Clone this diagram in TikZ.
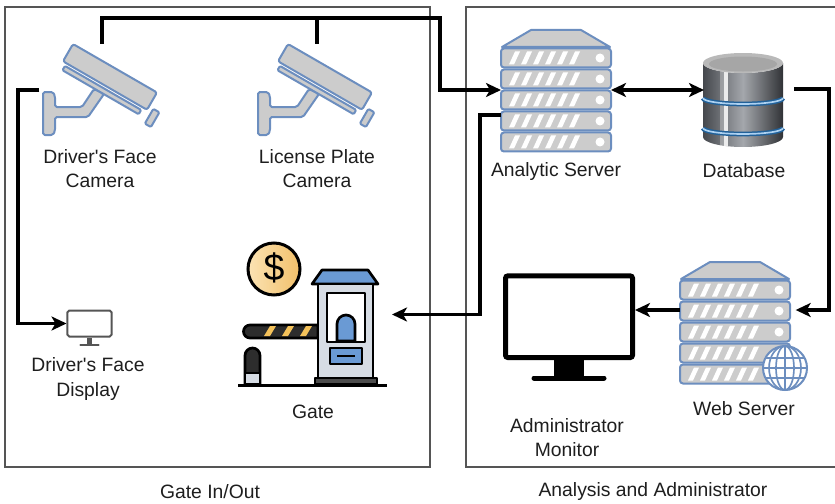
\documentclass[tikz,border=0pt]{standalone}
\usepackage{fontspec}
\setmainfont{Liberation Sans}
\usetikzlibrary{arrows.meta}

\definecolor{iconblue}{HTML}{6C8EBF}
\definecolor{icongrey}{HTML}{CCCCCC}
\definecolor{framegrey}{HTML}{555555}
\definecolor{labelgrey}{HTML}{1E1E1E}
\definecolor{screengrey}{HTML}{555555}
\definecolor{boothblue}{HTML}{6A9AD4}
\definecolor{boothgrey}{HTML}{D6DCE4}
\definecolor{coinlight}{HTML}{FBE3B4}
\definecolor{coindark}{HTML}{F2C06A}
\definecolor{stripeyellow}{HTML}{F4C25A}
\definecolor{dbdark}{HTML}{45484D}
\definecolor{dbmid}{HTML}{A4A7AC}
\definecolor{dbband}{HTML}{2F8BDB}

\tikzset{
    wiretip/.tip={Stealth[length=0.45cm, width=0.42cm, inset=0.12cm]},
    wire/.style={line width=0.1cm},
    arrowhead/.style={-wiretip},
    twohead/.style={wiretip-wiretip},
    frame/.style={draw=framegrey, line width=0.045cm},
    lbl/.style={font=\fontsize{16.5}{21}\selectfont, text=labelgrey, align=center, inner sep=0pt},
    iconbox/.style={inner sep=0pt, outer sep=0pt},
    icon/.style={fill=icongrey, draw=iconblue, line width=0.06cm, line join=round},
    gateline/.style={draw=black, line width=0.08cm, line join=round},
    cctv/.pic={
        \filldraw[icon, rounded corners=1.5pt] (-59,2) -- (-49,2) -- (-47,6) -- (-47,17) -- (-20,17) -- (-8,-1) -- (2,4) -- (-14,27) -- (-47,27) -- (-47,41) -- (-49,45) -- (-59,45) -- cycle;
        \begin{scope}[shift={(-29,-46)}, rotate=-30]
            \filldraw[icon, rounded corners=2pt] (0,0) rectangle (97,20);
            \filldraw[icon, rounded corners=1pt] (4,23) rectangle (92,28);
            \filldraw[icon, rounded corners=1pt] (102,16) rectangle (109,33);
        \end{scope}
    },
    server/.pic={
        \filldraw[icon] (-25,0) -- (25,0) -- (54,17) -- (-54,17) -- cycle;
        \foreach \k in {0,...,4} {
            \filldraw[icon, rounded corners=2.5pt] (-55,{18.5+21*\k}) rectangle (55,{37.5+21*\k});
            \foreach \s in {0,...,5}
                \fill[white] ({-47+12*\s},{34.5+21*\k}) -- ++(5,0) -- ++(6,-13) -- ++(-5,0) -- cycle;
            \fill[white] (44,{28+21*\k}) circle (4.5);
        }
    },
}

\begin{document}
\begin{tikzpicture}[x=0.03cm, y=-0.03cm]
            \useasboundingbox (0,0) rectangle (835,504);
            \draw[frame] (5,7) rectangle (430,467);
            \draw[frame] (835,7) -- (466,7) -- (466,467) -- (835,467);

            \node[iconbox, minimum width=3.75cm, minimum height=2.76cm] (drvcam) at (102,90) {};
            \node[iconbox, minimum width=3.75cm, minimum height=2.76cm] (lpcam) at (317,90) {};
            \pic at (drvcam.center) {cctv};
            \pic at (lpcam.center) {cctv};
            \node[lbl] (drvcamlbl) at (100,168.5) {Driver\textquotesingle s Face\\Camera};
            \node[lbl] (lpcamlbl) at (317,168.5) {License Plate\\Camera};

            \node[draw=screengrey, line width=0.06cm, rounded corners=1.5pt, minimum width=1.32cm, minimum height=0.78cm] (display) at (89.5,323.5) {};
            \begin{scope}[shift={(display.south)}]
                \fill[screengrey] (-2.5,0) rectangle (2.5,7);
                \draw[screengrey, line width=0.07cm, line cap=round] (-9,7.5) -- (9,7.5);
            \end{scope}
            \node[lbl] (displbl) at (88,379) {Driver\textquotesingle s Face\\Display};

            \node[iconbox, minimum width=4.65cm, minimum height=4.29cm] (gate) at (314.5,314.5) {};
            \shadedraw[left color=coinlight, right color=coindark, draw=black, line width=0.09cm] (274,269) circle (26);
            \node[font=\fontsize{32}{32}\selectfont, inner sep=0pt] (dollar) at (274,268) {\$};
            \filldraw[gateline, fill=gray!35!black] (318,325) -- (250,325) arc[start angle=270, end angle=90, radius=6.5] -- (318,338) -- cycle;
            \foreach \x in {264,282,300}
                \fill[stripeyellow] (\x,336) -- ++(6,0) -- ++(6,-10) -- ++(-6,0) -- cycle;
            \filldraw[gateline, fill=gray!35!black] (245,384) -- (245,355.5) arc[start angle=180, end angle=360, radius=7.5] -- (260,384) -- cycle;
            \filldraw[gateline, fill=boothgrey] (245,373) rectangle (260,384);
            \filldraw[gateline, fill=boothblue] (322,270) -- (368,270) -- (378,284) -- (312,284) -- cycle;
            \filldraw[gateline, fill=boothgrey] (318,284) rectangle (373,382);
            \filldraw[gateline, fill=white] (327,293) rectangle (365,342);
            \filldraw[gateline, fill=boothblue] (337,341) -- (337,324) arc[start angle=180, end angle=360, radius=9] -- (355,341) -- cycle;
            \filldraw[gateline, fill=boothblue] (330,348) rectangle (362,364);
            \draw[gateline] (337,356) -- (355,356);
            \filldraw[gateline, fill=gray!60!black] (315,378) rectangle (377,384);
            \draw[black, line width=0.09cm] (238,385.5) -- (387,385.5);
            \node[lbl] (gatelbl) at (313,411.5) {Gate};

            \node[iconbox, minimum width=3.3cm, minimum height=3.6cm] (anserver) at (556,90) {};
            \pic at (anserver.north) {server};
            \node[lbl] (anserverlbl) at (556,172) {Analytic Server};

            \node[iconbox, minimum width=2.7cm, minimum height=2.88cm] (db) at (749,89) {};
            \begin{scope}[shift={(db.center)}]
                \shade[left color=dbdark, right color=dbdark!70!black, middle color=dbmid] (-46,-26) -- (-46,48) arc[start angle=180, end angle=0, x radius=40, y radius=10] -- (34,-26) arc[start angle=0, end angle=180, x radius=40, y radius=10] -- cycle;
                \begin{scope}
                    \clip (-46,-26) -- (-46,48) arc[start angle=180, end angle=0, x radius=40, y radius=10] -- (34,-26) arc[start angle=0, end angle=180, x radius=40, y radius=10] -- cycle;
                    \fill[white, opacity=0.85] (-25,-20) rectangle (-21,60);
                    \fill[white, opacity=0.3] (-29,-20) rectangle (-25,60);
                \end{scope}
                \foreach \y in {9,39} {
                    \draw[dbband!70!black, line width=0.14cm] (-46,\y) arc[start angle=180, end angle=0, x radius=40, y radius=6];
                    \draw[dbband!40!white, line width=0.05cm] (-46,\y) arc[start angle=180, end angle=0, x radius=40, y radius=6];
                }
                \fill[gray!55] (-6,-26) ellipse [x radius=40, y radius=10];
                \fill[gray!70] (-6,-25) ellipse [x radius=34, y radius=7.5];
            \end{scope}
            \node[lbl] (dblbl) at (744,171) {Database};

            \node[iconbox, minimum width=3.3cm, minimum height=2.88cm] (webserver) at (735,310) {};
            \pic at (webserver.north) {server};
            \begin{scope}[shift={(webserver.north)}]
                \filldraw[fill=white, draw=iconblue, line width=0.06cm] (50,106) circle (22);
                \draw[iconblue, line width=0.05cm] (50,106) ellipse [x radius=9, y radius=22];
                \draw[iconblue, line width=0.05cm] (50,106) ellipse [x radius=16, y radius=22];
                \draw[iconblue, line width=0.05cm] (50,84) -- (50,128) (28,106) -- (72,106) (30.4,96) -- (69.6,96) (30.4,116) -- (69.6,116);
            \end{scope}
            \node[lbl] (webserverlbl) at (744,409) {Web Server};

            \node[draw=black, line width=0.15cm, rounded corners=2pt, minimum width=3.81cm, minimum height=2.45cm] (admon) at (569,316.7) {};
            \begin{scope}[shift={(admon.south)}]
                \fill[black] (-15,-1) rectangle (15,16);
                \draw[black, line width=0.15cm, line cap=round] (-35,18) -- (35,18);
            \end{scope}
            \node[lbl] (admonlbl) at (567,437.5) {Administrator\\Monitor};

            \node[lbl] (gatecap) at (210,492) {Gate In/Out};
            \node[lbl] (anacap) at (653,491) {Analysis and Administrator};

            \coordinate (topbus) at (440,18);
            \coordinate (leftbus) at (18,90);
            \coordinate (gatebus) at (480,115);
            \coordinate (rightbus) at (829,89);
            \draw[wire] (lpcam.north) -- (lpcam.north |- topbus);
            \draw[wire, arrowhead] (drvcam.north) |- (topbus) |- (anserver.west);
            \draw[wire, arrowhead] (drvcam.west) -- (leftbus) |- (display.west);
            \draw[wire, arrowhead] (anserver.west |- gatebus) -- (gatebus) |- (gate.east);
            \draw[wire, twohead] (anserver.east) -- (anserver.east -| db.west);
            \draw[wire, arrowhead, shorten >=0.17cm] (db.east) -- (rightbus) |- (webserver.east);
            \draw[wire, arrowhead] (webserver.west) -- (webserver.west -| admon.east);
\end{tikzpicture}
\end{document}
